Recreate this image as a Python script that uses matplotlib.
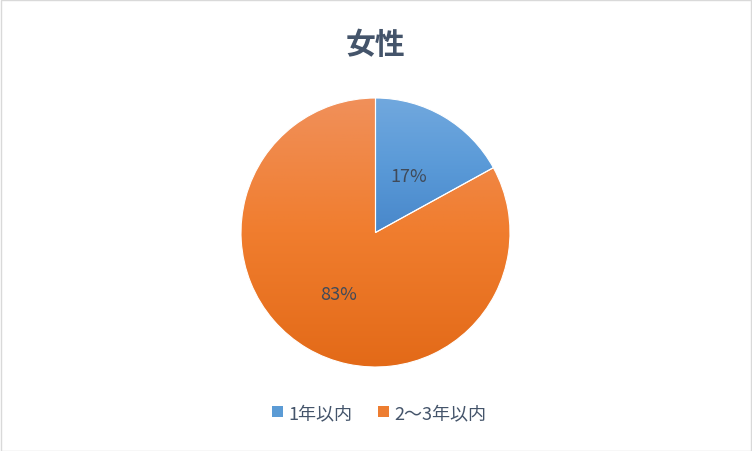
import numpy as np
import matplotlib.pyplot as plt
from matplotlib.colors import LinearSegmentedColormap
from matplotlib.patches import Rectangle

plt.rcParams['font.family'] = ['Noto Sans CJK JP', 'DejaVu Sans']

# datos
categorias = ['1年以内', '2～3年以内']
valores = [17, 83]
titulo = '女性'

# colores de degradado (arriba, medio, abajo)
degradados = [('#71A8DE', '#5A9AD8', '#4887CA'), ('#F0905A', '#F07D2E', '#E36A18')]
colores_leyenda = ['#5B9BD5', '#ED7D31']

W, H = 752, 452
fig = plt.figure(figsize=(W / 100, H / 100), dpi=100)

# borde del grafico
fig.patches.append(Rectangle((0.5 / W, 0.5 / H), 1 - 1.5 / W, 1 - 1.5 / H,
                             transform=fig.transFigure, fill=False,
                             edgecolor='#D9D9D9', linewidth=1))

# ejes del pie: centro (375.5, 233.5), radio 134.5 px
cx, cy, r = 375.5, 233.5, 134.5
ax = fig.add_axes([(cx - r) / W, 1 - (cy + r) / H, 2 * r / W, 2 * r / H])

wedges, textos, autotextos = ax.pie(
    valores, startangle=90, counterclock=False, radius=1,
    autopct='%1.0f%%', pctdistance=0.5,
    wedgeprops=dict(linewidth=0.8, edgecolor='white'),
    textprops=dict(color='#404A59', fontsize=13))

for t in textos:
    t.set_text('')

# relleno degradado vertical por porcion
for w, cols in zip(wedges, degradados):
    bb = w.get_path().get_extents(w.get_patch_transform())
    cmap = LinearSegmentedColormap.from_list('g', list(cols))
    grad = np.linspace(0, 1, 256).reshape(-1, 1)
    im = ax.imshow(grad, cmap=cmap, aspect='auto',
                   extent=[bb.x0, bb.x1, bb.y0, bb.y1], origin='upper', zorder=0.5)
    im.set_clip_path(w)
    w.set_facecolor('none')
    w.set_zorder(1)

# pequeño ajuste radial de las etiquetas
for t, f in zip(autotextos, [0.97, 1.07]):
    x, y = t.get_position()
    t.set_position((x * f, y * f))
    t.set_zorder(3)

ax.set_xlim(-1, 1)
ax.set_ylim(-1, 1)
ax.set_aspect('equal')
ax.axis('off')

# titulo
fig.text(cx / W, 1 - 45 / H, titulo, ha='center', va='center',
         fontsize=21.5, fontweight='bold', color='#44546A')

# leyenda
handles = [Rectangle((0, 0), 1, 1, facecolor=c, edgecolor='none') for c in colores_leyenda]
fig.legend(handles, categorias, loc='center', bbox_to_anchor=(cx / W + 0.005, 1 - 414 / H),
           ncol=2, frameon=False, fontsize=13, handlelength=0.6, handleheight=0.6,
           handletextpad=0.3, columnspacing=1.4,
           labelcolor='#44546A')

fig.savefig('out.png', dpi=100)
